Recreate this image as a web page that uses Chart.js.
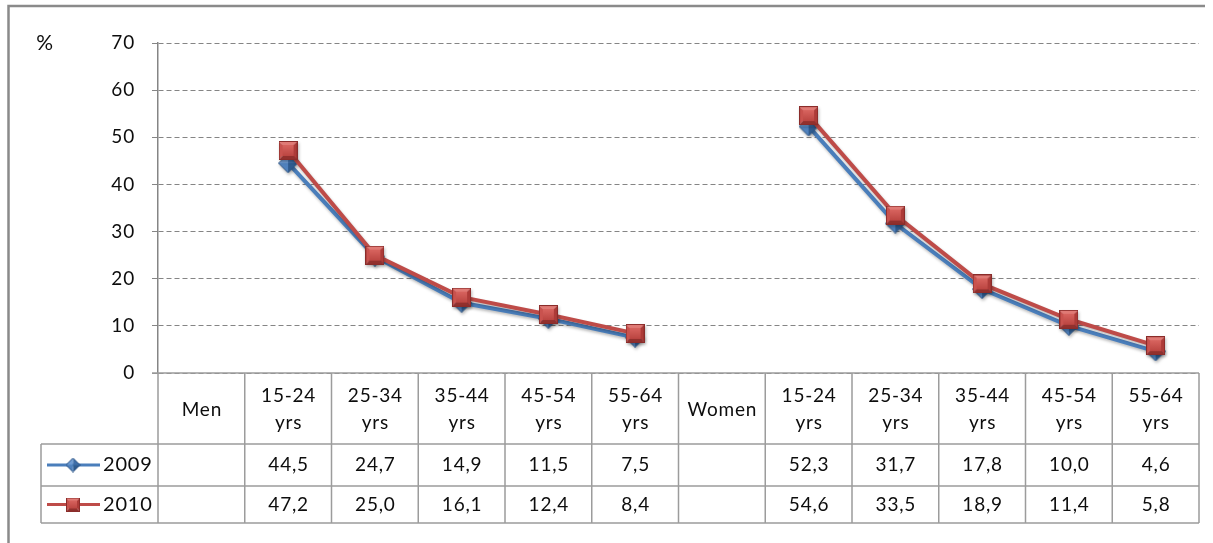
<!DOCTYPE html>
<html>
<head>
<meta charset="utf-8">
<script src="https://cdn.jsdelivr.net/npm/chart.js@4.4.1/dist/chart.umd.min.js"></script>
<style>
  html, body { margin: 0; padding: 0; background: #ffffff; }
  #wrap { position: relative; width: 1213px; height: 543px; }
</style>
</head>
<body>
<div id="wrap"><canvas id="chart" width="1213" height="543"></canvas></div>
<script>
// Category labels (each entry is the lines of one header cell)
const categories = [
  ['Men'], ['15-24', 'yrs'], ['25-34', 'yrs'], ['35-44', 'yrs'], ['45-54', 'yrs'], ['55-64', 'yrs'],
  ['Women'], ['15-24', 'yrs'], ['25-34', 'yrs'], ['35-44', 'yrs'], ['45-54', 'yrs'], ['55-64', 'yrs']
];
// Series values (null = group heading column, no point)
const values2009 = [null, 44.5, 24.7, 14.9, 11.5, 7.5, null, 52.3, 31.7, 17.8, 10.0, 4.6];
const values2010 = [null, 47.2, 25.0, 16.1, 12.4, 8.4, null, 54.6, 33.5, 18.9, 11.4, 5.8];
const seriesNames = ['2009', '2010'];
const yMin = 0, yMax = 70, yStep = 10;
const unitLabel = '%';

const FONT = 'Lato, "Open Sans", sans-serif';
const FONT_SIZE = 19;
const TEXT = '#0d0d0d';
const GRID = '#858585';
const TABLE_LINE = '#9c9c9c';
const BLUE = '#4a7ebb';
const RED = '#be4b48';

// Bevelled marker sprites
function makeSquare(side, light, top, left, right, bottom, face, edge) {
  const c = document.createElement('canvas');
  c.width = side; c.height = side;
  const g = c.getContext('2d');
  const s = side, m = side / 2;
  const tri = (a, b, col) => { g.beginPath(); g.moveTo(a[0], a[1]); g.lineTo(b[0], b[1]); g.lineTo(m, m); g.closePath(); g.fillStyle = col; g.fill(); };
  tri([0, 0], [s, 0], top);
  tri([0, 0], [0, s], left);
  tri([s, 0], [s, s], right);
  tri([0, s], [s, s], bottom);
  const inset = Math.round(s * 0.2);
  const gr = g.createLinearGradient(0, inset, 0, s - inset);
  gr.addColorStop(0, light); gr.addColorStop(1, face);
  g.fillStyle = gr;
  g.fillRect(inset, inset, s - 2 * inset, s - 2 * inset);
  g.strokeStyle = edge; g.lineWidth = 1;
  g.strokeRect(0.5, 0.5, s - 1, s - 1);
  return c;
}
function makeDiamond(side, top, left, right, bottom, edge) {
  const c = document.createElement('canvas');
  c.width = side; c.height = side;
  const g = c.getContext('2d');
  const s = side, m = side / 2;
  const pts = { t: [m, 0.5], r: [s - 0.5, m], b: [m, s - 0.5], l: [0.5, m] };
  const tri = (a, b, col) => { g.beginPath(); g.moveTo(a[0], a[1]); g.lineTo(b[0], b[1]); g.lineTo(m, m); g.closePath(); g.fillStyle = col; g.fill(); };
  tri(pts.l, pts.t, top);
  tri(pts.t, pts.r, right);
  tri(pts.r, pts.b, bottom);
  tri(pts.b, pts.l, left);
  g.beginPath(); g.moveTo(...pts.t); g.lineTo(...pts.r); g.lineTo(...pts.b); g.lineTo(...pts.l); g.closePath();
  g.strokeStyle = edge; g.lineWidth = 1; g.stroke();
  return c;
}
const redMarker = makeSquare(19, '#d8645f', '#e07a75', '#c9524e', '#ad3b38', '#92302d', '#bb4541', '#8a2c2a');
const blueMarker = makeDiamond(20, '#6d9bd3', '#4f81bd', '#3f6ea8', '#2f5b8e', '#2a5283');
const redMarkerSmall = makeSquare(14, '#d8645f', '#e07a75', '#c9524e', '#ad3b38', '#92302d', '#bb4541', '#8a2c2a');
const blueMarkerSmall = makeDiamond(15, '#6d9bd3', '#4f81bd', '#3f6ea8', '#2f5b8e', '#2a5283');

const fmt = v => v.toFixed(1).replace('.', ',');

// Frame, unit label and the data table under the plot
const tablePlugin = {
  id: 'dataTable',
  beforeDraw(chart) {
    const ctx = chart.ctx;
    ctx.save();
    ctx.strokeStyle = '#8a8a8a';
    ctx.lineWidth = 2.5;
    ctx.beginPath();
    ctx.moveTo(8.5, 543); ctx.lineTo(8.5, 6); ctx.lineTo(1205, 6);
    ctx.stroke();
    ctx.restore();
    ctx.letterSpacing = '0.8px';
  },
  beforeDatasetsDraw(chart) {
    const ctx = chart.ctx;
    ctx.save();
    ctx.shadowColor = 'rgba(0,0,0,0.28)';
    ctx.shadowBlur = 3;
    ctx.shadowOffsetX = 1;
    ctx.shadowOffsetY = 2;
  },
  afterDatasetsDraw(chart) {
    chart.ctx.restore();
  },
  afterDraw(chart) {
    const ctx = chart.ctx;
    const xs = chart.scales.x;
    const area = chart.chartArea;
    const step = xs.getPixelForValue(1) - xs.getPixelForValue(0);
    const left = area.left, right = area.right;
    const yTop = area.bottom;
    const yRow1 = yTop + 71, yRow2 = yRow1 + 42, yEnd = yRow2 + 37;
    const legendLeft = 41;
    const font = FONT_SIZE + 'px ' + FONT;

    ctx.save();
    ctx.letterSpacing = '0.8px';
    // unit label
    ctx.fillStyle = TEXT;
    ctx.font = (FONT_SIZE + 2) + 'px ' + FONT;
    ctx.textAlign = 'center';
    ctx.textBaseline = 'middle';
    ctx.fillText(unitLabel, 45, chart.scales.y.getPixelForValue(yMax));
    ctx.font = font;

    // grid of the table
    ctx.strokeStyle = TABLE_LINE;
    ctx.lineWidth = 1.5;
    ctx.beginPath();
    ctx.moveTo(left - 6, yTop); ctx.lineTo(right, yTop);
    [yRow1, yRow2, yEnd].forEach(y => { ctx.moveTo(legendLeft, y); ctx.lineTo(right, y); });
    ctx.moveTo(legendLeft, yRow1); ctx.lineTo(legendLeft, yEnd);
    for (let i = 0; i <= categories.length; i++) {
      const x = left + i * step;
      ctx.moveTo(x, yTop); ctx.lineTo(x, yEnd);
    }
    ctx.stroke();

    // header cells
    ctx.fillStyle = TEXT;
    const lineH = 27;
    categories.forEach((lines, i) => {
      const cx = xs.getPixelForValue(i);
      const cy = (yTop + yRow1) / 2 + 1;
      lines.forEach((t, k) => {
        ctx.fillText(t, cx + 0.5, cy + (k - (lines.length - 1) / 2) * lineH);
      });
    });

    // value rows
    const rows = [values2009, values2010];
    const rowMid = [(yRow1 + yRow2) / 2, (yRow2 + yEnd) / 2];
    rows.forEach((vals, r) => {
      vals.forEach((v, i) => {
        if (v === null) return;
        ctx.fillText(fmt(v), xs.getPixelForValue(i) + 0.5, rowMid[r]);
      });
    });

    // legend keys
    const keys = [
      { color: BLUE, marker: blueMarkerSmall },
      { color: RED, marker: redMarkerSmall }
    ];
    keys.forEach((k, r) => {
      const y = rowMid[r];
      ctx.save();
      ctx.letterSpacing = '0px';
      ctx.strokeStyle = k.color;
      ctx.lineWidth = 3;
      ctx.beginPath(); ctx.moveTo(47, y); ctx.lineTo(100, y); ctx.stroke();
      ctx.drawImage(k.marker, 73 - k.marker.width / 2, y - k.marker.height / 2);
      ctx.restore();
      ctx.textAlign = 'left';
      ctx.font = (FONT_SIZE + 1) + 'px ' + FONT;
      ctx.fillText(seriesNames[r], 103, y);
      ctx.font = font;
      ctx.textAlign = 'center';
    });
    ctx.restore();
    ctx.letterSpacing = '0px';
  }
};

new Chart(document.getElementById('chart'), {
  type: 'line',
  data: {
    labels: categories,
    datasets: [
      {
        label: seriesNames[0], data: values2009, order: 1,
        borderColor: BLUE, backgroundColor: BLUE, borderWidth: 4,
        pointStyle: blueMarker, pointRadius: 10, pointHoverRadius: 10,
        spanGaps: false, tension: 0, fill: false
      },
      {
        label: seriesNames[1], data: values2010, order: 0,
        borderColor: RED, backgroundColor: RED, borderWidth: 4,
        pointStyle: redMarker, pointRadius: 10, pointHoverRadius: 10,
        spanGaps: false, tension: 0, fill: false
      }
    ]
  },
  options: {
    responsive: false,
    animation: false,
    devicePixelRatio: 1,
    layout: { padding: { top: 43, right: 8, bottom: 170, left: 0 } },
    plugins: { legend: { display: false }, tooltip: { enabled: false } },
    events: [],
    scales: {
      x: { type: 'category', offset: true, display: false },
      y: {
        min: yMin, max: yMax,
        afterFit(scale) { scale.width = 158; },
        ticks: { stepSize: yStep, padding: 17, color: TEXT, font: { family: FONT, size: FONT_SIZE } },
        grid: { color: GRID, lineWidth: 1, tickLength: 6, tickColor: GRID },
        border: { display: true, color: GRID, width: 1.5, dash: [5, 3] }
      }
    }
  },
  plugins: [tablePlugin]
});
</script>
</body>
</html>
